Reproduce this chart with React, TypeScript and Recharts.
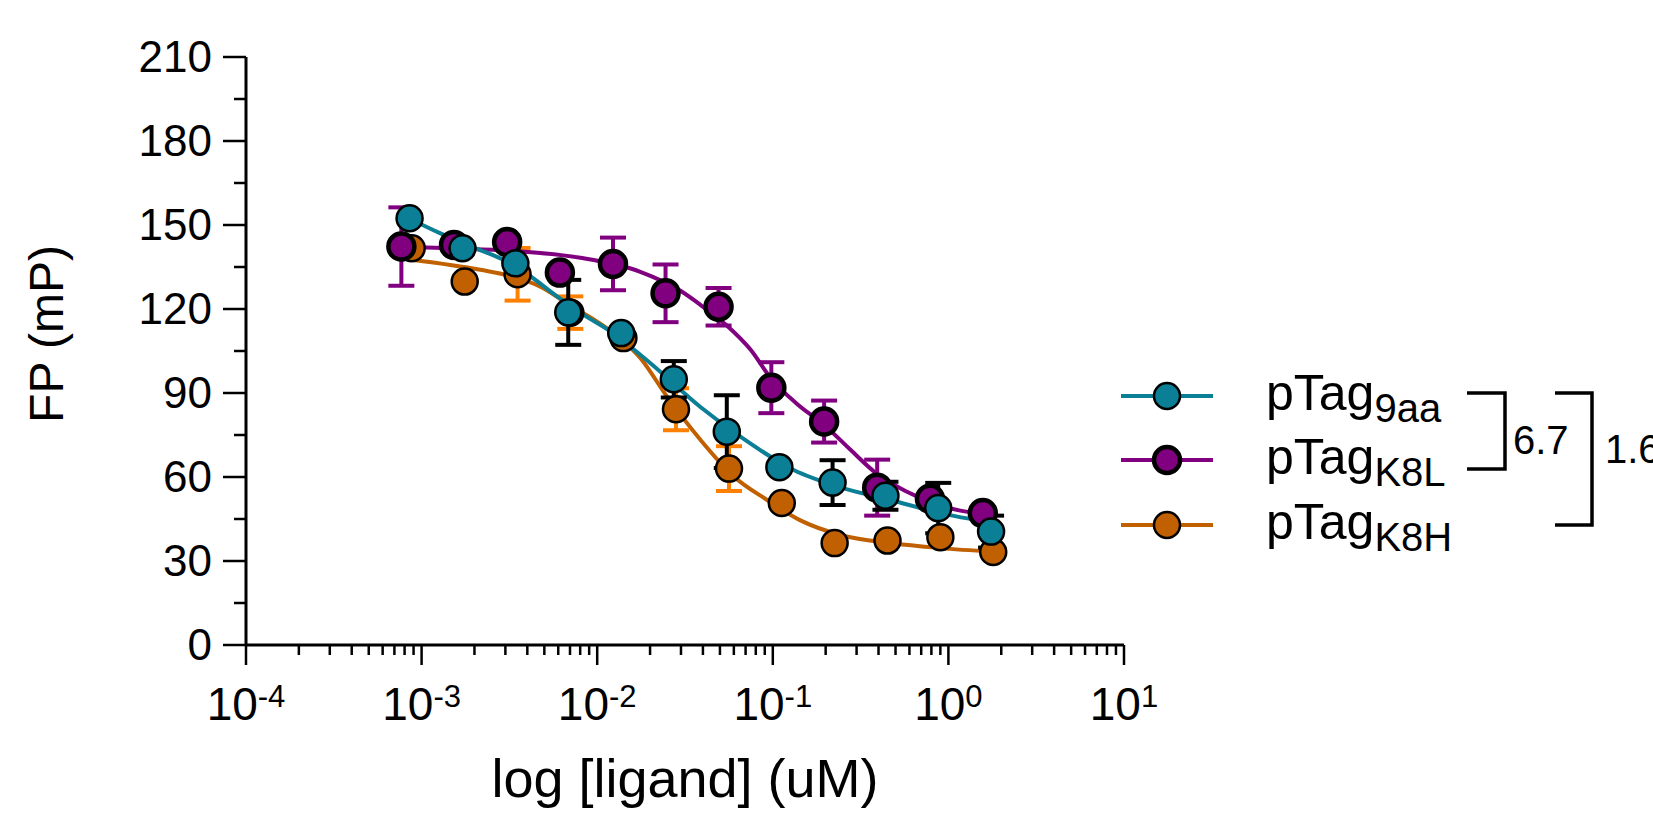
import { ComposedChart, Line, Scatter, ErrorBar, XAxis, YAxis } from "recharts";

const FONT = "'Liberation Sans', Arial, Helvetica, sans-serif";

const TEAL = "#0A7F96";
const PURPLE = "#800080";
const ORANGE = "#C06000";
const ORANGE_ERR = "#FF8000";

const X_9AA = [0.000854, 0.00171, 0.00342, 0.00684, 0.0137, 0.0273, 0.0547, 0.109, 0.219, 0.438, 0.875, 1.75];
const Y_9AA = [152.4, 141.7, 136.3, 118.8, 111.4, 94.9, 76.2, 63.5, 58.0, 53.3, 48.9, 40.5];
const SD_9AA = [null, null, null, 11.6, null, 6.5, 13.0, null, 8.0, 5.0, 9.0, 5.7];

const X_K8L = [0.000767, 0.00153, 0.00307, 0.00613, 0.0123, 0.0245, 0.0491, 0.0981, 0.196, 0.393, 0.785, 1.57];
const Y_K8L = [142.3, 142.9, 143.9, 133.0, 136.1, 125.6, 120.8, 91.9, 79.8, 56.2, 52.2, 47.1];
const SD_K8L = [14.0, null, null, null, 9.4, 10.3, 6.7, 9.1, 7.5, 10.0, null, null];

const X_K8H = [0.000879, 0.00176, 0.00352, 0.00703, 0.0141, 0.0281, 0.0563, 0.1125, 0.225, 0.45, 0.9, 1.8];
const Y_K8H = [141.7, 129.8, 132.4, 118.7, 109.6, 84.2, 63.0, 50.7, 36.4, 37.3, 38.5, 33.2];
const SD_K8H = [null, null, 9.4, 5.8, null, 7.5, 8.0, null, null, null, null, null];

// fitted curves
const CURVE_9AA_X = [0.000844, 0.00128, 0.00207, 0.00294, 0.00399, 0.00591, 0.00834, 0.0119, 0.0201, 0.0387, 0.0654, 0.1315, 0.2427, 0.4674, 0.9006, 1.72];
const CURVE_9AA_Y = [152.4, 147, 141.5, 137.5, 132.5, 124.5, 118, 112, 100.6, 85, 74.4, 62.5, 56.3, 51.8, 47.1, 43.8];

const CURVE_K8L_X = [0.00076, 0.00166, 0.00365, 0.00802, 0.0176, 0.0298, 0.0387, 0.0549, 0.0746, 0.0982, 0.138, 0.197, 0.277, 0.394, 0.569, 0.821, 1.17, 1.57];
const CURVE_K8L_Y = [142.2, 141.6, 140.6, 138.3, 133.3, 126.5, 121.5, 114, 105.5, 95, 86, 78.5, 69.7, 61, 55, 50.7, 48, 47];

const CURVE_K8H_X = [0.000883, 0.00216, 0.00335, 0.00475, 0.00674, 0.0124, 0.0176, 0.025, 0.0387, 0.0599, 0.0928, 0.1436, 0.2427, 0.4674, 0.9006, 1.79];
const CURVE_K8H_Y = [137.6, 134, 131.5, 128, 122, 111.3, 102.5, 88.7, 73.3, 60.2, 51.8, 44.5, 39.3, 36.4, 34.6, 33.3];

const X_MAJOR = [0.0001, 0.001, 0.01, 0.1, 1, 10];
const X_EXP = ["-4", "-3", "-2", "-1", "0", "1"];
const X_MINOR_STEPS = [2, 3, 4, 5, 6, 7, 8, 9];
const Y_MAJOR = [0, 30, 60, 90, 120, 150, 180, 210];

const xTicks = [
  ...X_MAJOR,
  ...X_MAJOR.slice(0, -1).flatMap((m) => X_MINOR_STEPS.map((s) => m * s)),
].sort((a, b) => a - b);
const yTicks = [...Y_MAJOR, ...Y_MAJOR.slice(0, -1).map((v) => v + 15)].sort((a, b) => a - b);

const pts = (xs: number[], ys: number[], sd?: (number | null)[]) =>
  xs.map((x, i) => ({ x, y: ys[i], sd: sd ? sd[i] : null }));

const XTick = (props: any) => {
  const { x, y, payload } = props;
  const i = X_MAJOR.findIndex((m) => Math.abs(payload.value / m - 1) < 1e-6);
  const major = i >= 0;
  return (
    <g>
      <line x1={x} x2={x} y1={y} y2={y + (major ? 20 : 10)} stroke="#000" strokeWidth={2.5} />
      {major && (
        <text x={x} y={y + 75} textAnchor="middle" fontSize={46} fontFamily={FONT} fill="#000">
          10
          <tspan dy={-13} fontSize={31}>
            {X_EXP[i]}
          </tspan>
        </text>
      )}
    </g>
  );
};

const YTick = (props: any) => {
  const { x, y, payload } = props;
  const major = payload.value % 30 === 0;
  return (
    <g>
      <line x1={x - (major ? 23 : 12)} x2={x} y1={y} y2={y} stroke="#000" strokeWidth={2.5} />
      {major && (
        <text x={x - 34} y={y + 15} textAnchor="end" fontSize={44} fontFamily={FONT} fill="#000">
          {payload.value}
        </text>
      )}
    </g>
  );
};

const dot = (fill: string, sw: number) => (props: any) =>
  <circle cx={props.cx} cy={props.cy} r={13} fill={fill} stroke="#000" strokeWidth={sw} />;

const LEGEND = [
  { sub: "9aa", color: TEAL, sw: 2.5, y: 396 },
  { sub: "K8L", color: PURPLE, sw: 4.5, y: 460 },
  { sub: "K8H", color: ORANGE, sw: 2.5, y: 525 },
];

const App = () => {
  return (
    <div style={{ position: "absolute", left: 0, top: 0, width: 1653, height: 816, background: "#fff" }}>
      <ComposedChart width={1653} height={816} margin={{ top: 57, right: 529, bottom: 0, left: 0 }}>
        <XAxis
          dataKey="x"
          type="number"
          scale="log"
          domain={[0.0001, 10]}
          allowDataOverflow
          ticks={xTicks}
          interval={0}
          tickLine={false}
          tickSize={0}
          tickMargin={0}
          tick={XTick}
          axisLine={{ stroke: "#000", strokeWidth: 3 }}
          height={171}
        />
        <YAxis
          dataKey="y"
          type="number"
          domain={[0, 210]}
          allowDataOverflow
          ticks={yTicks}
          interval={0}
          tickLine={false}
          tickSize={0}
          tickMargin={0}
          tick={YTick}
          axisLine={{ stroke: "#000", strokeWidth: 3 }}
          width={246}
        />

        <Line data={pts(CURVE_K8H_X, CURVE_K8H_Y)} dataKey="y" type="monotone" stroke={ORANGE} strokeWidth={4} dot={false} activeDot={false} isAnimationActive={false} />
        <Scatter data={pts(X_K8H, Y_K8H, SD_K8H)} dataKey="y" shape={dot(ORANGE, 2.5)} isAnimationActive={false}>
          <ErrorBar dataKey="sd" direction="y" width={13} stroke={ORANGE_ERR} strokeWidth={4} isAnimationActive={false} />
        </Scatter>

        <Line data={pts(CURVE_K8L_X, CURVE_K8L_Y)} dataKey="y" type="monotone" stroke={PURPLE} strokeWidth={4} dot={false} activeDot={false} isAnimationActive={false} />
        <Scatter data={pts(X_K8L, Y_K8L, SD_K8L)} dataKey="y" shape={dot(PURPLE, 4.5)} isAnimationActive={false}>
          <ErrorBar dataKey="sd" direction="y" width={13} stroke={PURPLE} strokeWidth={4} isAnimationActive={false} />
        </Scatter>

        <Line data={pts(CURVE_9AA_X, CURVE_9AA_Y)} dataKey="y" type="monotone" stroke={TEAL} strokeWidth={4} dot={false} activeDot={false} isAnimationActive={false} />
        <Scatter data={pts(X_9AA, Y_9AA, SD_9AA)} dataKey="y" shape={dot(TEAL, 2.5)} isAnimationActive={false}>
          <ErrorBar dataKey="sd" direction="y" width={13} stroke="#000" strokeWidth={4} isAnimationActive={false} />
        </Scatter>
      </ComposedChart>

      <svg
        width={1653}
        height={816}
        style={{ position: "absolute", left: 0, top: 0, pointerEvents: "none" }}
        fontFamily={FONT}
      >
        <text x={685} y={797} textAnchor="middle" fontSize={54} fill="#000">
          log [ligand] (uM)
        </text>
        <text x={63} y={334} textAnchor="middle" fontSize={48} fill="#000" transform="rotate(-90 63 334)">
          FP (mP)
        </text>

        {LEGEND.map((r) => (
          <g key={r.sub}>
            <line x1={1121} x2={1213} y1={r.y} y2={r.y} stroke={r.color} strokeWidth={4} />
            <circle cx={1167} cy={r.y} r={13} fill={r.color} stroke="#000" strokeWidth={r.sw} />
            <text x={1266} y={r.y + 14} fontSize={50} fill="#000">
              pTag
              <tspan dy={12} fontSize={40}>
                {r.sub}
              </tspan>
            </text>
          </g>
        ))}

        <path d="M1467,393 H1505 V469 H1467" fill="none" stroke="#000" strokeWidth={3.5} />
        <text x={1513} y={454} fontSize={40} fill="#000">
          6.7
        </text>
        <path d="M1555,393 H1592 V525 H1555" fill="none" stroke="#000" strokeWidth={3.5} />
        <text x={1605} y={463} fontSize={40} fill="#000">
          1.6
        </text>
      </svg>
    </div>
  );
};

export default App;
